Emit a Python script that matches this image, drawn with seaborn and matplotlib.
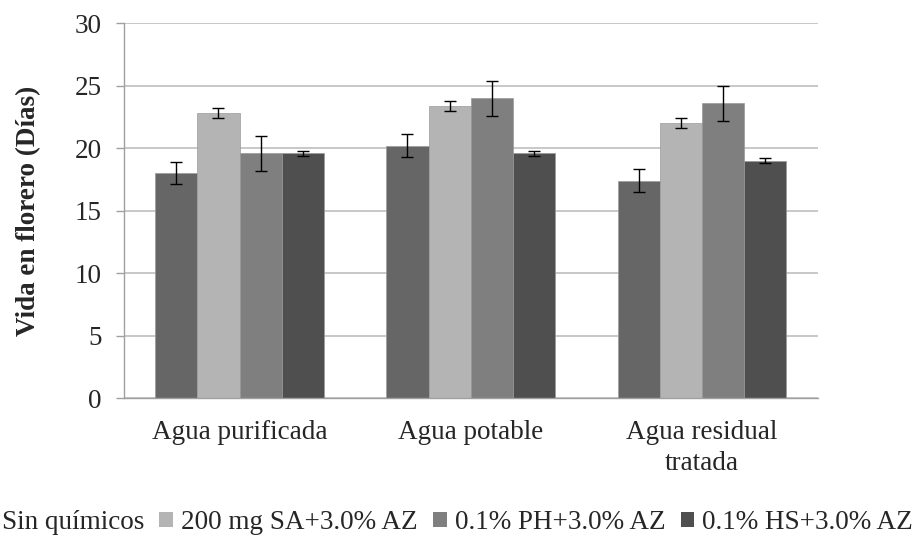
import numpy as np
import matplotlib
matplotlib.use("Agg")
import matplotlib.pyplot as plt
import matplotlib.patches as mpatches
import pandas as pd
import seaborn as sns

# data
agua = ["Agua purificada", "Agua potable", "Agua residual\ntratada"]
tratamientos = ["Sin químicos", "200 mg SA+3.0% AZ", "0.1% PH+3.0% AZ", "0.1% HS+3.0% AZ"]
sin_quimicos = [18.0, 20.2, 17.4]
sa_az = [22.8, 23.4, 22.0]
ph_az = [19.6, 24.0, 23.6]
hs_az = [19.6, 19.6, 19.0]
err_sin = [0.85, 0.9, 0.9]
err_sa = [0.4, 0.4, 0.4]
err_ph = [1.4, 1.4, 1.4]
err_hs = [0.2, 0.2, 0.2]

colores = ["#666666", "#b4b4b4", "#7f7f7f", "#4f4f4f"]

df = pd.DataFrame({
    "Agua": agua * 4,
    "Tratamiento": np.repeat(tratamientos, 3),
    "Vida": sin_quimicos + sa_az + ph_az + hs_az,
    "Err": err_sin + err_sa + err_ph + err_hs,
})

sns.set_style("white")
fuente = ["Liberation Serif", "DejaVu Serif"]
plt.rcParams["font.family"] = fuente
fs = 19.5

fig = plt.figure(figsize=(9.15, 5.35), dpi=100)
ax = fig.add_axes([0.1355, 0.256, 0.758, 0.701])

sns.barplot(data=df, x="Agua", y="Vida", hue="Tratamiento", order=agua,
            hue_order=tratamientos, palette=colores, width=0.73,
            errorbar=None, saturation=1, legend=False, ax=ax, zorder=2)

# error bars at bar centres
for cont, trat in zip(ax.containers, tratamientos):
    sub = df[df["Tratamiento"] == trat].set_index("Agua").loc[agua]
    xs = [b.get_x() + b.get_width() / 2 for b in cont]
    ax.errorbar(xs, sub["Vida"], yerr=sub["Err"], fmt="none", ecolor="black",
                elinewidth=1, capsize=4, capthick=1, zorder=3)
    for b in cont:
        b.set_edgecolor("#9a9a9a")
        b.set_linewidth(0.5)

ax.set_ylim(0, 30)
ax.set_yticks(range(0, 31, 5))
ax.set_yticklabels([str(v) for v in range(0, 31, 5)], fontsize=fs, fontfamily=fuente)
ax.set_xlim(-0.5, 2.5)
ax.yaxis.grid(True, color="#bfbfbf", linewidth=1.2, zorder=0)
ax.set_axisbelow(True)
for s in ["top", "right"]:
    ax.spines[s].set_visible(False)
for s in ["left", "bottom"]:
    ax.spines[s].set_color("#a0a0a0")
    ax.spines[s].set_linewidth(1)

ax.set_xticks([0, 1, 2])
ax.set_xticklabels(agua, fontsize=fs, fontfamily=fuente, linespacing=1.3)
ax.tick_params(axis="x", length=0, pad=16)
ax.set_xticks([-0.5, 0.5, 1.5, 2.5], minor=True)
ax.tick_params(axis="x", which="minor", length=6, color="#a0a0a0", width=1)
ax.tick_params(axis="y", length=6, color="#a0a0a0", width=1, pad=10, left=True)

ax.set_xlabel("")
ax.set_ylabel("Vida en florero (Días)", fontsize=fs, fontweight="bold",
              fontfamily=fuente, labelpad=24)

# legend along the bottom, first marker falls off the left edge
handles = [mpatches.Patch(facecolor=c, edgecolor="none") for c in colores]
handles[0] = mpatches.Patch(facecolor="none", edgecolor="none")
fig.legend(handles, tratamientos, loc="lower center", bbox_to_anchor=(0.488, -0.031),
           ncol=4, frameon=False, prop={"family": fuente, "size": fs},
           handlelength=0.5, handleheight=0.5, handletextpad=0.3,
           columnspacing=0.57, borderaxespad=0.2)

fig.savefig("out.png", dpi=100)
